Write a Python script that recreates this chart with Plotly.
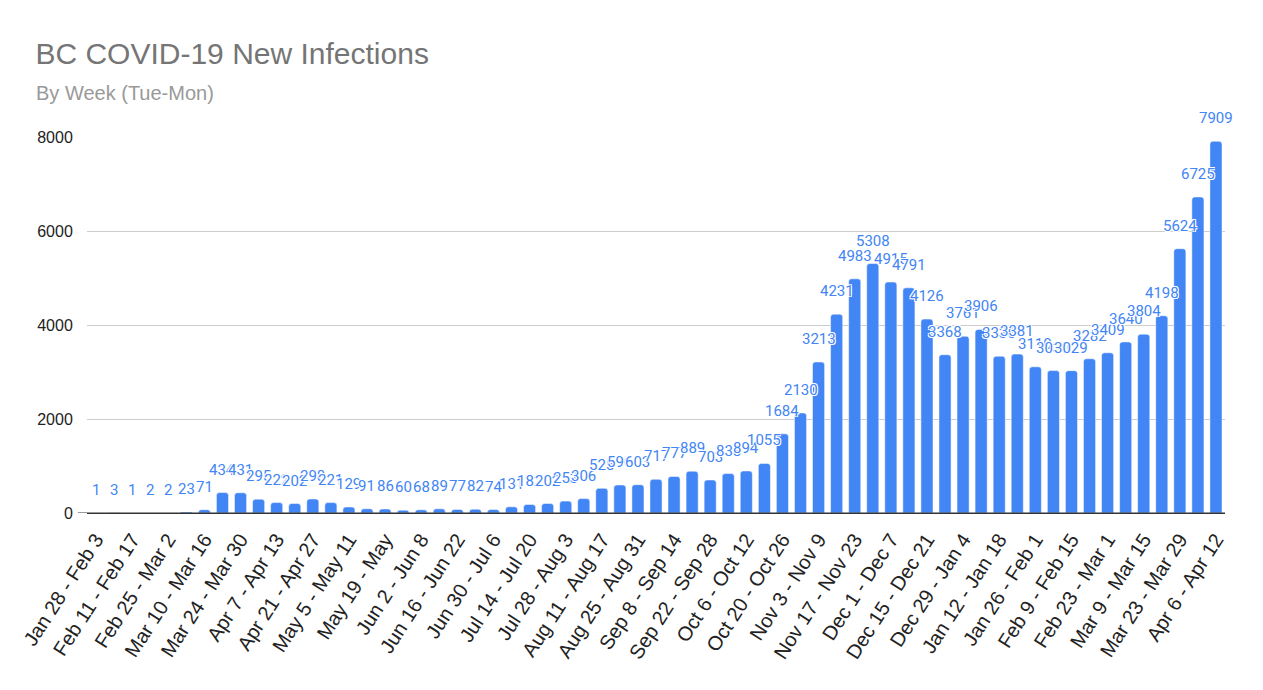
import plotly.graph_objects as go

# Settimane (mar-lun), dalla fine di gennaio 2020 ad aprile 2021
weeks = [
    "Jan 28 - Feb 3", "Feb 4 - Feb 10", "Feb 11 - Feb 17", "Feb 18 - Feb 24",
    "Feb 25 - Mar 2", "Mar 3 - Mar 9", "Mar 10 - Mar 16", "Mar 17 - Mar 23",
    "Mar 24 - Mar 30", "Mar 31 - Apr 6", "Apr 7 - Apr 13", "Apr 14 - Apr 20",
    "Apr 21 - Apr 27", "Apr 28 - May 4", "May 5 - May 11", "May 12 - May 18",
    "May 19 - May", "May 26 - Jun 1", "Jun 2 - Jun 8", "Jun 9 - Jun 15",
    "Jun 16 - Jun 22", "Jun 23 - Jun 29", "Jun 30 - Jul 6", "Jul 7 - Jul 13",
    "Jul 14 - Jul 20", "Jul 21 - Jul 27", "Jul 28 - Aug 3", "Aug 4 - Aug 10",
    "Aug 11 - Aug 17", "Aug 18 - Aug 24", "Aug 25 - Aug 31", "Sep 1 - Sep 7",
    "Sep 8 - Sep 14", "Sep 15 - Sep 21", "Sep 22 - Sep 28", "Sep 29 - Oct 5",
    "Oct 6 - Oct 12", "Oct 13 - Oct 19", "Oct 20 - Oct 26", "Oct 27 - Nov 2",
    "Nov 3 - Nov 9", "Nov 10 - Nov 16", "Nov 17 - Nov 23", "Nov 24 - Nov 30",
    "Dec 1 - Dec 7", "Dec 8 - Dec 14", "Dec 15 - Dec 21", "Dec 22 - Dec 28",
    "Dec 29 - Jan 4", "Jan 5 - Jan 11", "Jan 12 - Jan 18", "Jan 19 - Jan 25",
    "Jan 26 - Feb 1", "Feb 2 - Feb 8", "Feb 9 - Feb 15", "Feb 16 - Feb 22",
    "Feb 23 - Mar 1", "Mar 2 - Mar 8", "Mar 9 - Mar 15", "Mar 16 - Mar 22",
    "Mar 23 - Mar 29", "Mar 30 - Apr 5", "Apr 6 - Apr 12",
]

new_cases = [
    1, 3, 1, 2, 2, 23, 71, 434, 431, 295, 222, 202, 298, 221, 129, 91,
    86, 60, 68, 89, 77, 82, 74, 131, 182, 202, 253, 306, 525, 596, 603, 717,
    777, 889, 703, 838, 894, 1055, 1684, 2130, 3213, 4231, 4983, 5308, 4915, 4791,
    4126, 3368, 3761, 3906, 3336, 3381, 3110, 3030, 3029, 3282, 3409, 3640, 3804, 4198,
    5624, 6725, 7909,
]

# Etichette mostrate solo a settimane alterne
tick_labels = weeks[::2]

blue = "#4285F4"
halo = "-1px -1px 0 white, 1px -1px 0 white, -1px 1px 0 white, 1px 1px 0 white"

fig = go.Figure()
fig.add_trace(go.Bar(
    x=weeks,
    y=new_cases,
    marker=dict(color=blue, cornerradius=3),
    showlegend=False,
))

# etichette dei valori sopra le barre, un po' staccate come in Sheets
value_labels = [
    dict(
        x=w, y=v, xref="x", yref="y",
        text=str(v),
        showarrow=False,
        xanchor="center", yanchor="bottom",
        yshift=12,
        font=dict(family="Roboto", size=15, color=blue, shadow=halo),
    )
    for w, v in zip(weeks, new_cases)
]

subtitle = dict(
    text="By Week (Tue-Mon)",
    xref="paper", yref="paper",
    x=-0.047, y=1.117,
    xanchor="left", yanchor="middle",
    showarrow=False,
    font=dict(family="Liberation Sans, Arial", size=20, color="#999999"),
)

# la pagina ha un margine di 8px intorno alla figura
fig.update_layout(
    width=1247,
    height=674,
    template="plotly_white",
    font=dict(family="Liberation Sans, Arial", color="#222222"),
    title=dict(
        text="BC COVID-19 New Infections",
        font=dict(family="Liberation Sans, Arial", size=30, color="#757575"),
        x=0.022, xanchor="left",
        y=0.933, yanchor="middle",
    ),
    annotations=value_labels + [subtitle],
    shapes=[dict(
        type="line", xref="paper", yref="y",
        x0=-0.008, x1=1, y0=0, y1=0,
        line=dict(color="#333333", width=1),
    )],
    margin=dict(l=79, r=30, t=129, b=169),
    bargap=0.33,
    plot_bgcolor="white",
    paper_bgcolor="white",
)

fig.update_xaxes(
    tickmode="array",
    tickvals=tick_labels,
    ticktext=tick_labels,
    range=[-0.5, len(weeks) - 0.5],
    tickangle=-57,
    tickfont=dict(size=20, color="#222222"),
    showgrid=False,
    showline=True,
    linecolor="#333333",
    linewidth=1,
    ticks="outside",
    ticklen=6,
    tickcolor="white",
    automargin=False,
)

fig.update_yaxes(
    range=[0, 8000],
    tickvals=[0, 2000, 4000, 6000, 8000],
    tickfont=dict(size=16, color="#222222"),
    gridcolor="#cccccc",
    zeroline=False,
    ticks="outside",
    ticklen=10,
    tickcolor="white",
    automargin=False,
)

fig.write_html("out.html")
